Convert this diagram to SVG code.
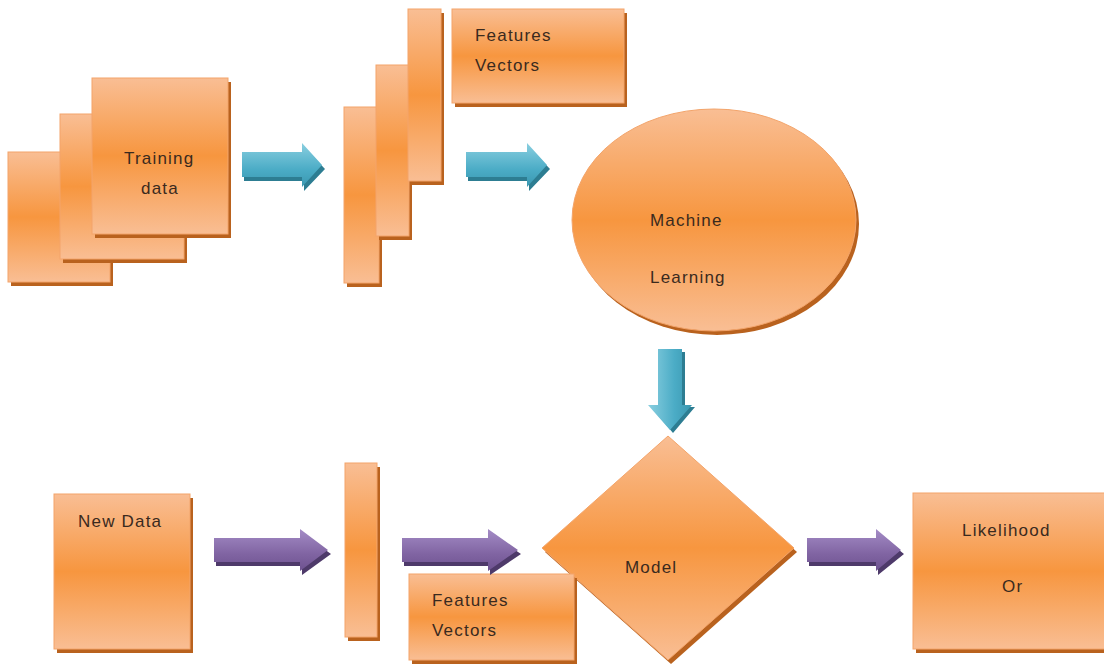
<svg xmlns="http://www.w3.org/2000/svg" width="1104" height="666" viewBox="0 0 1104 666">
<defs>
<linearGradient id="og" x1="0" y1="0" x2="0" y2="1">
<stop offset="0" stop-color="#F9BE94"/>
<stop offset="0.5" stop-color="#F7963F"/>
<stop offset="1" stop-color="#F9BE94"/>
</linearGradient>
<linearGradient id="bg" x1="0" y1="0" x2="0" y2="1">
<stop offset="0" stop-color="#8ACFE0"/>
<stop offset="0.6" stop-color="#4BACC6"/>
<stop offset="1" stop-color="#3A97B0"/>
</linearGradient>
<linearGradient id="bgv" x1="0" y1="0" x2="1" y2="0">
<stop offset="0" stop-color="#8ACFE0"/>
<stop offset="0.6" stop-color="#4BACC6"/>
<stop offset="1" stop-color="#3A97B0"/>
</linearGradient>
<linearGradient id="pg" x1="0" y1="0" x2="0" y2="1">
<stop offset="0" stop-color="#A48CC6"/>
<stop offset="0.6" stop-color="#8064A2"/>
<stop offset="1" stop-color="#6E5290"/>
</linearGradient>
<style>
.box{fill:url(#og);stroke:#F3A46A;stroke-width:1}
.sh{fill:#B9621E}
.lbl{font-family:"Liberation Sans",Arial,sans-serif;font-size:17px;fill:#3A2A1E;letter-spacing:1.2px}
.ab{fill:url(#bg)}
.abv{fill:url(#bgv)}
.absh{fill:#2D7D92}
.ap{fill:url(#pg)}
.apsh{fill:#4E3A6A}
</style>
</defs>
<rect width="1104" height="666" fill="#FFFFFF"/>

<g id="training-data">
<rect class="sh" x="11" y="156" width="102" height="130"/>
<rect class="box" x="8" y="152" width="102" height="130"/>
<rect class="sh" x="63" y="118" width="124" height="145"/>
<rect class="box" x="60" y="114" width="124" height="145"/>
<rect class="sh" x="95" y="82" width="136" height="156"/>
<rect class="box" x="92" y="78" width="136" height="156"/>
<text class="lbl" x="124" y="164">Training</text>
<text class="lbl" x="141" y="194">data</text>
</g>

<g id="feature-bars-top">
<rect class="sh" x="347" y="111" width="35" height="176"/>
<rect class="box" x="344" y="107" width="35" height="176"/>
<rect class="sh" x="379" y="69" width="33" height="171"/>
<rect class="box" x="376" y="65" width="33" height="171"/>
<rect class="sh" x="411" y="13" width="33" height="172"/>
<rect class="box" x="408" y="9" width="33" height="172"/>
</g>

<g id="features-vectors-top">
<rect class="sh" x="455" y="13" width="172" height="94"/>
<rect class="box" x="452" y="9" width="172" height="94"/>
<text class="lbl" x="475" y="41">Features</text>
<text class="lbl" x="475" y="71">Vectors</text>
</g>

<g id="machine-learning">
<ellipse class="sh" cx="717" cy="224" rx="142" ry="111"/>
<ellipse class="box" cx="714" cy="220" rx="142" ry="111"/>
<text class="lbl" x="650" y="226">Machine</text>
<text class="lbl" x="650" y="283">Learning</text>
</g>

<g id="model">
<polygon class="sh" points="671,440 797,552 671,664 545,552"/>
<polygon class="box" points="668,436 794,548 668,660 542,548"/>
<text class="lbl" x="625" y="573">Model</text>
</g>

<g id="new-data">
<rect class="sh" x="57" y="498" width="136" height="155"/>
<rect class="box" x="54" y="494" width="136" height="155"/>
<text class="lbl" x="78" y="527">New Data</text>
</g>

<g id="feature-bar-bottom">
<rect class="sh" x="348" y="467" width="32" height="174"/>
<rect class="box" x="345" y="463" width="32" height="174"/>
</g>

<g id="features-vectors-bottom">
<rect class="sh" x="412" y="578" width="165" height="86"/>
<rect class="box" x="409" y="574" width="165" height="86"/>
<text class="lbl" x="432" y="606">Features</text>
<text class="lbl" x="432" y="636">Vectors</text>
</g>

<g id="likelihood">
<rect class="sh" x="916" y="497" width="200" height="156"/>
<rect class="box" x="913" y="493" width="200" height="156"/>
<text class="lbl" x="962" y="536">Likelihood</text>
<text class="lbl" x="1002" y="592">Or</text>
</g>

<g id="connectors">
<path class="absh" d="M244,156 H304 V147 L325,169 L304,191 V181 H244 Z"/>
<path class="ab" d="M242,152 H302 V143 L322,165 L302,187 V177 H242 Z"/>
<path class="absh" d="M468,156 H529 V147 L550,169 L529,191 V181 H468 Z"/>
<path class="ab" d="M466,152 H527 V143 L547,165 L527,187 V177 H466 Z"/>
<path class="absh" d="M661,352 H685 V407 H695 L673,433 L651,407 H661 Z"/>
<path class="abv" d="M658,349 H682 V405 H692 L670,430 L648,405 H658 Z"/>
<path class="apsh" d="M216,542 H302 V533 L331,554 L302,575 V566 H216 Z"/>
<path class="ap" d="M214,538 H300 V529 L328,550 L300,571 V562 H214 Z"/>
<path class="apsh" d="M404,542 H490 V533 L521,554 L490,575 V566 H404 Z"/>
<path class="ap" d="M402,538 H488 V529 L518,550 L488,571 V562 H402 Z"/>
<path class="apsh" d="M809,542 H878 V533 L904,554 L878,575 V566 H809 Z"/>
<path class="ap" d="M807,538 H876 V529 L901,550 L876,571 V562 H807 Z"/>
</g>
</svg>
